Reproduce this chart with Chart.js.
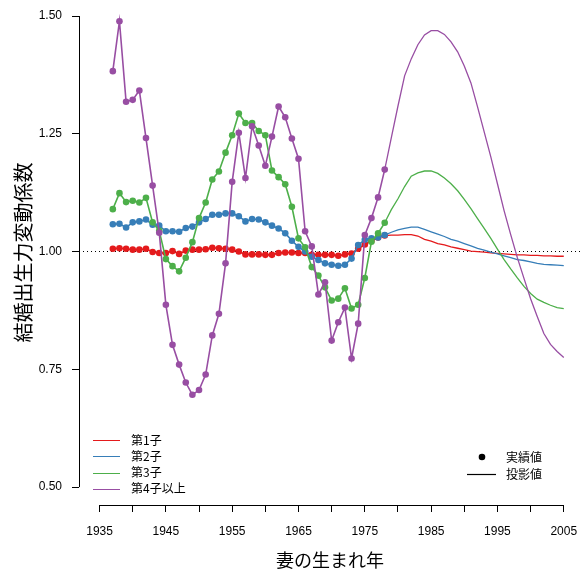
<!DOCTYPE html>
<html>
<head>
<meta charset="utf-8">
<script src="https://cdn.jsdelivr.net/npm/chart.js@4"></script>
<style>
  html, body { margin: 0; padding: 0; background: #fff; }
</style>
</head>
<body>
<canvas id="chart" width="581" height="571"></canvas>
<script>
// cohort years with observed values (points) and projected years (lines)
const actualYears = [1937, 1938, 1939, 1940, 1941, 1942, 1943, 1944, 1945, 1946,
  1947, 1948, 1949, 1950, 1951, 1952, 1953, 1954, 1955, 1956,
  1957, 1958, 1959, 1960, 1961, 1962, 1963, 1964, 1965, 1966,
  1967, 1968, 1969, 1970, 1971, 1972, 1973, 1974, 1975, 1976,
  1977, 1978];
const projYears = [1978, 1979, 1980, 1981, 1982, 1983, 1984, 1985, 1986, 1987,
  1988, 1989, 1990, 1991, 1992, 1993, 1994, 1995, 1996, 1997,
  1998, 1999, 2000, 2001, 2002, 2003, 2004, 2005];

const seriesNames = ['第1子', '第2子', '第3子', '第4子以上'];
const seriesColors = ['#e41a1c', '#377eb8', '#4daf4a', '#984ea3'];

const firstActual = [1.006, 1.007, 1.006, 1.004, 1.004, 1.006, 0.999, 0.997, 0.997, 1.001,
  0.995, 1.002, 1.004, 1.004, 1.005, 1.008, 1.007, 1.006, 1.004, 1.000,
  0.994, 0.994, 0.994, 0.993, 0.993, 0.997, 0.998, 0.998, 0.997, 0.997,
  0.993, 0.993, 0.993, 0.993, 0.991, 0.994, 0.996, 1.006, 1.015, 1.023,
  1.030, 1.034];
const secondActual = [1.058, 1.059, 1.051, 1.062, 1.064, 1.068, 1.057, 1.055, 1.043, 1.043,
  1.042, 1.050, 1.053, 1.062, 1.069, 1.078, 1.078, 1.081, 1.081, 1.075,
  1.064, 1.069, 1.068, 1.062, 1.055, 1.049, 1.039, 1.023, 1.010, 1.000,
  0.989, 0.982, 0.975, 0.972, 0.970, 0.972, 0.985, 1.014, 1.025, 1.028,
  1.030, 1.035];
const thirdActual = [1.090, 1.124, 1.105, 1.108, 1.104, 1.114, 1.062, 1.044, 0.984, 0.969,
  0.958, 0.987, 1.020, 1.071, 1.104, 1.153, 1.170, 1.210, 1.247, 1.293,
  1.273, 1.273, 1.256, 1.247, 1.172, 1.158, 1.143, 1.095, 1.028, 1.009,
  0.967, 0.949, 0.924, 0.896, 0.900, 0.922, 0.879, 0.887, 0.944, 1.021,
  1.039, 1.061];
const fourthActual = [1.383, 1.489, 1.318, 1.322, 1.342, 1.241, 1.140, 1.040, 0.887, 0.802,
  0.760, 0.722, 0.696, 0.706, 0.739, 0.822, 0.868, 0.975, 1.148, 1.252,
  1.156, 1.266, 1.225, 1.182, 1.244, 1.308, 1.285, 1.240, 1.197, 1.043,
  1.011, 0.909, 0.935, 0.811, 0.850, 0.881, 0.773, 0.847, 1.035, 1.071,
  1.115, 1.174];

const firstProj = [1.034, 1.035, 1.035, 1.036, 1.036, 1.033, 1.026, 1.022, 1.017, 1.014,
  1.010, 1.007, 1.004, 1.001, 1.000, 0.999, 0.997, 0.996, 0.995, 0.994,
  0.993, 0.993, 0.992, 0.992, 0.991, 0.991, 0.990, 0.990];
const secondProj = [1.035, 1.041, 1.046, 1.049, 1.052, 1.052, 1.047, 1.042, 1.037, 1.032,
  1.026, 1.022, 1.017, 1.012, 1.007, 1.003, 0.999, 0.995, 0.991, 0.987,
  0.983, 0.981, 0.978, 0.975, 0.973, 0.972, 0.971, 0.970];
const thirdProj = [1.061, 1.089, 1.112, 1.138, 1.160, 1.167, 1.171, 1.171, 1.166, 1.156,
  1.144, 1.129, 1.111, 1.091, 1.070, 1.049, 1.028, 1.005, 0.983, 0.963,
  0.944, 0.926, 0.911, 0.899, 0.892, 0.886, 0.881, 0.879];
const fourthProj = [1.174, 1.242, 1.309, 1.373, 1.409, 1.439, 1.460, 1.469, 1.469, 1.461,
  1.445, 1.424, 1.394, 1.358, 1.307, 1.254, 1.201, 1.144, 1.087, 1.036,
  0.987, 0.943, 0.900, 0.862, 0.826, 0.803, 0.788, 0.775];

const xTicks = [1935, 1940, 1945, 1950, 1955, 1960, 1965, 1970, 1975, 1980, 1985, 1990, 1995, 2000, 2005];
const xLabels = [1935, 1945, 1955, 1965, 1975, 1985, 1995, 2005];
const yTicks = [0.50, 0.75, 1.00, 1.25, 1.50];
const refLine = 1.00;

const markerLegend = ['実績値', '投影値'];

const latin = '"Liberation Sans", Arial, sans-serif';
const cjk = '"Noto Sans CJK JP", "Liberation Sans", sans-serif';

const actualSets = [firstActual, secondActual, thirdActual, fourthActual];
const projSets = [firstProj, secondProj, thirdProj, fourthProj];

const datasets = [];
actualSets.forEach((vals, i) => {
  datasets.push({
    label: seriesNames[i],
    data: actualYears.map((yr, j) => ({ x: yr, y: vals[j] })),
    borderColor: seriesColors[i],
    backgroundColor: seriesColors[i],
    borderWidth: 1.6,
    pointRadius: 3.3,
    pointBorderWidth: 0,
    pointBackgroundColor: seriesColors[i],
    tension: 0,
    order: 10 - i
  });
});
projSets.forEach((vals, i) => {
  datasets.push({
    label: seriesNames[i] + ' 投影',
    data: projYears.map((yr, j) => ({ x: yr, y: vals[j] })),
    borderColor: seriesColors[i],
    borderWidth: 1.3,
    pointRadius: 0,
    tension: 0,
    order: 10 - i
  });
});

function alignPx(v) {
  return Math.round(v - 0.5) + 0.5;
}

// R-like axes: axis lines only between first and last tick, dotted line at 1
const rAxes = {
  id: 'rAxes',
  beforeDatasetsDraw(chart) {
    const { ctx, chartArea, scales: { x, y } } = chart;
    ctx.save();
    ctx.strokeStyle = '#000';
    ctx.lineWidth = 1;
    ctx.setLineDash([1, 3]);
    const yr = alignPx(y.getPixelForValue(refLine));
    ctx.beginPath();
    ctx.moveTo(chartArea.left + 4, yr);
    ctx.lineTo(chartArea.right, yr);
    ctx.stroke();
    ctx.setLineDash([]);

    const ax = alignPx(chartArea.left);
    ctx.beginPath();
    ctx.moveTo(ax, y.getPixelForValue(yTicks[0]));
    ctx.lineTo(ax, y.getPixelForValue(yTicks[yTicks.length - 1]));
    ctx.stroke();

    const ay = alignPx(chartArea.bottom);
    ctx.beginPath();
    ctx.moveTo(x.getPixelForValue(xTicks[0]), ay);
    ctx.lineTo(x.getPixelForValue(xTicks[xTicks.length - 1]), ay);
    ctx.stroke();
    ctx.restore();
  },
  afterDraw(chart) {
    const { ctx, chartArea } = chart;
    ctx.save();
    ctx.font = '12px ' + cjk;
    ctx.textBaseline = 'middle';
    ctx.textAlign = 'left';
    // series legend, bottom left
    const lx = chartArea.left + 14;
    seriesNames.forEach((name, i) => {
      const ly = chartArea.bottom - 65 + i * 16.3;
      ctx.strokeStyle = seriesColors[i];
      ctx.lineWidth = 1;
      ctx.beginPath();
      ctx.moveTo(lx, Math.round(ly) + 0.5);
      ctx.lineTo(lx + 27, Math.round(ly) + 0.5);
      ctx.stroke();
      ctx.fillStyle = '#000';
      ctx.fillText(name, lx + 38, ly);
    });
    // marker legend, bottom right
    const rx = chartArea.right - 114;
    const ry = chartArea.bottom - 48;
    ctx.fillStyle = '#000';
    ctx.beginPath();
    ctx.arc(rx + 15, ry, 3.3, 0, Math.PI * 2);
    ctx.fill();
    ctx.fillText(markerLegend[0], rx + 39, ry);
    ctx.strokeStyle = '#000';
    ctx.lineWidth = 1.2;
    ctx.beginPath();
    ctx.moveTo(rx, ry + 17.5);
    ctx.lineTo(rx + 29, ry + 17.5);
    ctx.stroke();
    ctx.fillText(markerLegend[1], rx + 39, ry + 17);
    ctx.restore();
  }
};

new Chart(document.getElementById('chart'), {
  type: 'line',
  data: { datasets },
  options: {
    responsive: false,
    animation: false,
    devicePixelRatio: 1,
    layout: { padding: 0, autoPadding: false },
    plugins: {
      legend: { display: false },
      tooltip: { enabled: false }
    },
    scales: {
      x: {
        type: 'linear',
        min: 1931.9,
        max: 2007.6,
        afterFit(scale) {
          scale.height = 66;
          scale.paddingLeft = 0;
          scale.paddingRight = 0;
        },
        afterBuildTicks(scale) { scale.ticks = xTicks.map(v => ({ value: v })); },
        grid: { drawOnChartArea: false, drawTicks: true, tickLength: 7, color: '#000', lineWidth: 1 },
        border: { display: false },
        ticks: {
          autoSkip: false,
          maxRotation: 0,
          padding: 12,
          color: '#000',
          font: { family: latin, size: 12 },
          callback: v => (xLabels.includes(v) ? String(v) : '')
        },
        title: {
          display: true,
          text: '妻の生まれ年',
          color: '#000',
          font: { family: cjk, size: 18 },
          padding: { top: 0, bottom: 0 }
        }
      },
      y: {
        type: 'linear',
        min: 0.462,
        max: 1.534,
        afterFit(scale) {
          scale.width = 79;
          scale.paddingTop = 0;
          scale.paddingBottom = 0;
        },
        afterBuildTicks(scale) { scale.ticks = yTicks.map(v => ({ value: v })); },
        grid: { drawOnChartArea: false, drawTicks: true, tickLength: 7, color: '#000', lineWidth: 1 },
        border: { display: false },
        ticks: {
          padding: 10,
          color: '#000',
          font: { family: latin, size: 12 },
          callback: v => v.toFixed(2)
        },
        title: {
          display: true,
          text: '結婚出生力変動係数',
          color: '#000',
          font: { family: cjk, size: 20 },
          padding: { top: 11, bottom: 0 }
        }
      }
    }
  },
  plugins: [rAxes]
});
</script>
</body>
</html>
